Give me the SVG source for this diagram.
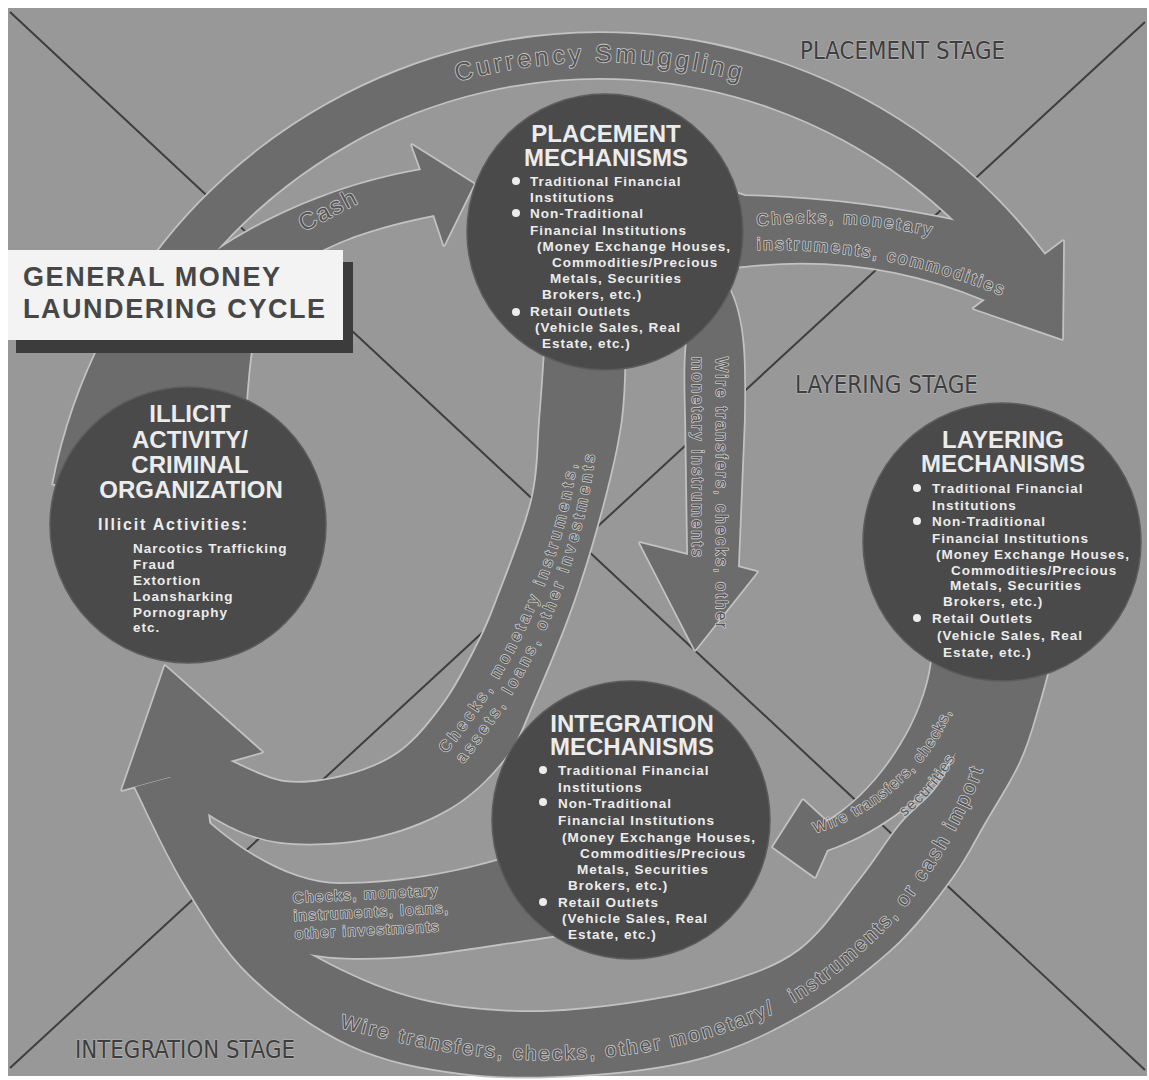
<svg xmlns="http://www.w3.org/2000/svg" width="1149" height="1080" viewBox="0 0 1149 1080">
<defs>
<style>
.xl{stroke:#3e3e3e;stroke-width:2;fill:none}
.stage{font-family:"Liberation Sans Narrow","DejaVu Sans Condensed","Liberation Sans",sans-serif;font-size:25px;fill:#3e3e3e;stroke:#b8b8b8;stroke-width:1.2;paint-order:stroke}
.edge{fill:none;stroke:#c2c2c2;stroke-width:3.5;stroke-linejoin:round}
.band{fill:#6c6c6c;stroke:none}
.bt{font-family:"Liberation Sans",Arial,sans-serif;fill:#565656;stroke:#c8c8c8;stroke-width:1.6;paint-order:stroke;stroke-linejoin:round}
.disc{fill:#4a4a4a;stroke:#5c5c5c;stroke-width:1.5}
.ct{font-family:"Liberation Sans",Arial,sans-serif;font-weight:bold;fill:#ececec}
.h{font-size:24px;text-anchor:middle}
.b{font-size:13.5px;letter-spacing:1px}
.dot{fill:#ececec}
.title{font-family:"Liberation Sans",Arial,sans-serif;font-weight:bold;font-size:27px;fill:#474747}
</style>
<path id="pRing" d="M 53.2,483.7 A 557 557 0 0 1 1044.8,254.8 L 1063.2,241 L 1062.2,339 L 973.7,308.4 L 1008.9,281.9 A 512 512 0 0 0 97.4,492.3 Z"/>
<path id="pCash" d="M 115,420 L 245,415 C 250,360 250,300 290,270 C 330,240 380,226 434,215 L 444,245 L 474,184 L 412,145 L 421,170 C 350,182 280,210 225,245 C 190,268 150,300 130,330 Z"/>
<path id="pChecks" d="M 720,188 L 745,196 Q 850,198 962,222 L 1020,280 L 985,300 Q 870,252 745,266 L 720,268 Z"/>
<path id="pWire" d="M 690,320 L 728,286 C 745,320 745,360 744,420 L 738,567 L 757,572 L 695,650 L 640,543 L 688,555 L 686,420 C 685,380 684,350 690,320 Z"/>
<path id="pS" d="M 625,350 C 624.3,361.7 624.5,395 621,420 S 611.8,470 604,500 S 585.7,566.7 574,600 S 545.5,673.7 534,700 S 519,740 505,758 S 472.5,794.7 450,808 S 398.3,832.3 370,838 S 305.8,845.3 280,842 S 233.3,828.8 215,818 S 177.5,783.8 170,777 L 122,790 L 165,666 L 262,752 L 230,761 C 239.2,764.5 265.8,779.5 285,782 S 325.8,781 345,776 S 383.7,763.8 400,752 S 430.5,722 443,705 S 466,667.5 475,650 S 487.5,625 497,600 S 524.8,530 532,500 S 537.8,445 540,420 S 544.2,361.7 545,350 Z"/>
<path id="pBottom" d="M 1052,655 C 1050,662.5 1045.3,682.5 1040,700 S 1029.2,739.7 1020,760 S 996.7,802 985,822 S 965.8,858.7 950,880 S 915,927.5 890,950 S 831.7,997 800,1015 S 736.7,1048 700,1058 S 620,1072.5 580,1075 S 498.3,1078 460,1073 S 385,1061.3 350,1045 S 277.5,1001.7 250,975 S 204.2,916.3 185,885 S 143.3,803.3 135,787 L 205,768 C 206.7,781.7 206.7,825.5 215,850 S 235.8,895.8 255,915 S 302.5,950.8 330,965 S 388.3,992.2 420,1000 S 486.7,1011.2 520,1012 S 586.7,1009.5 620,1005 S 690,994.2 720,985 S 776.7,967.5 800,950 S 843.3,900.8 860,880 S 887.2,840.5 900,825 S 927,800.7 937,787 S 953.2,759.2 960,743 S 973.8,703.8 978,690 S 983.8,665 985,660 Z"/>
<path id="pInteg" d="M 208,822 C 245,855 295,884 340,884 C 400,884 470,872 530,850 L 560,935 C 510,942 450,952 420,955 C 380,959 330,960 300,952 C 260,945 230,925 215,910 Z"/>
<path id="pSec" d="M 932,660 C 925,720 880,790 827,822 L 803,800 L 773,847 L 815,877 L 827,850 C 900,825 975,760 988,672 Z"/>
<path id="tCur" d="M 72,590 A 528 528 0 0 1 1128,590"/>
<path id="tC1" d="M 757,226 Q 850,216 940,238"/>
<path id="tC2" d="M 757,250 Q 880,246 1003,296"/>
<path id="tV1" d="M 716,357 L 716,660"/>
<path id="tV2" d="M 692,357 L 692,660"/>
<path id="tS1" d="M 446,754 C 506,682 571,562 580,430"/>
<path id="tS2" d="M 463,764 C 523,692 588,567 597,430"/>
<path id="tW1" d="M 815,833 C 880,815 945,755 958,688"/>
<path id="tW2" d="M 838,852 C 900,832 962,780 975,700"/>
<path id="tBot1" d="M 340,1028 C 358.3,1032 413.3,1046.7 450,1052 S 521.7,1061.2 560,1060 S 641.7,1054.2 680,1045 S 756.7,1023.3 790,1005"/>
<path id="tBot2" d="M 790,1005 C 823.3,986.7 855.8,958.3 880,935 S 919.2,889.2 935,865 S 965,812.5 975,790 S 991.7,740 995,730"/>
</defs>

<rect width="1149" height="1080" fill="#ffffff"/>
<rect x="8" y="8" width="1139" height="1068" fill="#989898"/>

<g id="stage-lines">
<line class="xl" x1="10" y1="12" x2="1145" y2="1070"/>
<line class="xl" x1="1145" y1="22" x2="10" y2="1068"/>
</g>

<g id="stages">
<text class="stage" x="800" y="59" textLength="205" lengthAdjust="spacingAndGlyphs">PLACEMENT STAGE</text>
<text class="stage" x="795" y="393" textLength="183" lengthAdjust="spacingAndGlyphs">LAYERING STAGE</text>
<text class="stage" x="75" y="1058" textLength="220" lengthAdjust="spacingAndGlyphs">INTEGRATION STAGE</text>
</g>

<g id="connectors">
<g id="connector-edges">
<use href="#pBottom" class="edge"/>
<use href="#pInteg" class="edge"/>
<use href="#pS" class="edge"/>
<use href="#pSec" class="edge"/>
<use href="#pWire" class="edge"/>
<use href="#pChecks" class="edge"/>
<use href="#pCash" class="edge"/>
<use href="#pRing" class="edge"/>
</g>
<g id="connector-fills">
<use href="#pBottom" class="band"/>
<use href="#pInteg" class="band"/>
<use href="#pS" class="band"/>
<use href="#pSec" class="band"/>
<use href="#pWire" class="band"/>
<use href="#pChecks" class="band"/>
<use href="#pCash" class="band"/>
<use href="#pRing" class="band"/>
</g>
<g id="connector-labels">
<text class="bt" font-size="25" letter-spacing="3.5"><textPath href="#tCur" startOffset="50%" text-anchor="middle">Currency Smuggling</textPath></text>
<text class="bt" font-size="24" letter-spacing="2" text-anchor="middle" transform="translate(332,217) rotate(-28)">Cash</text>
<text class="bt" font-size="17" letter-spacing="2.5"><textPath href="#tC1">Checks, monetary</textPath><textPath href="#tC2">instruments, commodities</textPath></text>
<text class="bt" font-size="16" letter-spacing="2.4"><textPath href="#tV1">Wire transfers, checks, other</textPath><textPath href="#tV2">monetary instruments</textPath></text>
<text class="bt" font-size="16" letter-spacing="3.6"><textPath href="#tS1">Checks, monetary instruments,</textPath><textPath href="#tS2">assets, loans, other investments</textPath></text>
<text class="bt" font-size="15" letter-spacing="1.6" transform="rotate(-3 293 903)"><tspan x="293" y="903">Checks, monetary</tspan><tspan x="293" y="921">instruments, loans,</tspan><tspan x="293" y="939">other investments</tspan></text>
<text class="bt" font-size="15" letter-spacing="1.6"><textPath href="#tW1">Wire transfers, checks,</textPath><textPath href="#tW2" startOffset="35%">securities</textPath></text>
<text class="bt" font-size="20" letter-spacing="2.5"><textPath href="#tBot1">Wire transfers, checks, other monetary/</textPath></text>
<text class="bt" font-size="20" letter-spacing="2.5"><textPath href="#tBot2" startOffset="4">instruments, or cash import</textPath></text>
</g>
</g>

<g id="node-placement">
<circle class="disc" cx="605" cy="232" r="138"/>
<text class="ct h"><tspan x="606" y="142">PLACEMENT</tspan><tspan x="606" y="166">MECHANISMS</tspan></text>
<circle class="dot" cx="516" cy="181" r="4"/>
<circle class="dot" cx="516" cy="213" r="4"/>
<circle class="dot" cx="516" cy="312" r="4"/>
<text class="ct b"><tspan x="530" y="186">Traditional Financial</tspan><tspan x="530" y="202">Institutions</tspan><tspan x="530" y="218">Non-Traditional</tspan><tspan x="530" y="235">Financial Institutions</tspan><tspan x="537" y="251">(Money Exchange Houses,</tspan><tspan x="552" y="267">Commodities/Precious</tspan><tspan x="550" y="283">Metals, Securities</tspan><tspan x="542" y="299">Brokers, etc.)</tspan><tspan x="530" y="316">Retail Outlets</tspan><tspan x="535" y="332">(Vehicle Sales, Real</tspan><tspan x="542" y="348">Estate, etc.)</tspan></text>
</g>

<g id="node-layering">
<circle class="disc" cx="1002" cy="542" r="139"/>
<text class="ct h"><tspan x="1003" y="448">LAYERING</tspan><tspan x="1003" y="472">MECHANISMS</tspan></text>
<circle class="dot" cx="917" cy="488" r="4"/>
<circle class="dot" cx="917" cy="521" r="4"/>
<circle class="dot" cx="917" cy="618" r="4"/>
<text class="ct b"><tspan x="932" y="493">Traditional Financial</tspan><tspan x="932" y="510">Institutions</tspan><tspan x="932" y="526">Non-Traditional</tspan><tspan x="932" y="543">Financial Institutions</tspan><tspan x="936" y="559">(Money Exchange Houses,</tspan><tspan x="951" y="575">Commodities/Precious</tspan><tspan x="950" y="590">Metals, Securities</tspan><tspan x="943" y="606">Brokers, etc.)</tspan><tspan x="932" y="623">Retail Outlets</tspan><tspan x="937" y="640">(Vehicle Sales, Real</tspan><tspan x="943" y="657">Estate, etc.)</tspan></text>
</g>

<g id="node-integration">
<circle class="disc" cx="631" cy="820" r="139"/>
<text class="ct h"><tspan x="632" y="732">INTEGRATION</tspan><tspan x="632" y="755">MECHANISMS</tspan></text>
<circle class="dot" cx="543" cy="770" r="4"/>
<circle class="dot" cx="543" cy="802" r="4"/>
<circle class="dot" cx="543" cy="902" r="4"/>
<text class="ct b"><tspan x="558" y="775">Traditional Financial</tspan><tspan x="558" y="792">Institutions</tspan><tspan x="558" y="808">Non-Traditional</tspan><tspan x="558" y="825">Financial Institutions</tspan><tspan x="562" y="842">(Money Exchange Houses,</tspan><tspan x="580" y="858">Commodities/Precious</tspan><tspan x="577" y="874">Metals, Securities</tspan><tspan x="568" y="890">Brokers, etc.)</tspan><tspan x="558" y="907">Retail Outlets</tspan><tspan x="562" y="923">(Vehicle Sales, Real</tspan><tspan x="568" y="939">Estate, etc.)</tspan></text>
</g>

<g id="node-illicit">
<circle class="disc" cx="188" cy="525" r="138"/>
<text class="ct h"><tspan x="190" y="422">ILLICIT</tspan><tspan x="190" y="448">ACTIVITY/</tspan><tspan x="190" y="473">CRIMINAL</tspan><tspan x="191" y="498">ORGANIZATION</tspan></text>
<text class="ct" x="98" y="530" font-size="16" letter-spacing="1.8">Illicit Activities:</text>
<text class="ct b"><tspan x="133" y="553">Narcotics Trafficking</tspan><tspan x="133" y="569">Fraud</tspan><tspan x="133" y="585">Extortion</tspan><tspan x="133" y="601">Loansharking</tspan><tspan x="133" y="617">Pornography</tspan><tspan x="133" y="632">etc.</tspan></text>
</g>

<g id="title">
<rect x="16" y="262" width="337" height="91" fill="#3c3c3c"/>
<rect x="8" y="250" width="335" height="90" fill="#f3f3f3"/>
<text class="title" x="23" y="286" textLength="257" lengthAdjust="spacing">GENERAL MONEY</text>
<text class="title" x="23" y="318" textLength="302" lengthAdjust="spacing">LAUNDERING CYCLE</text>
</g>
</svg>
